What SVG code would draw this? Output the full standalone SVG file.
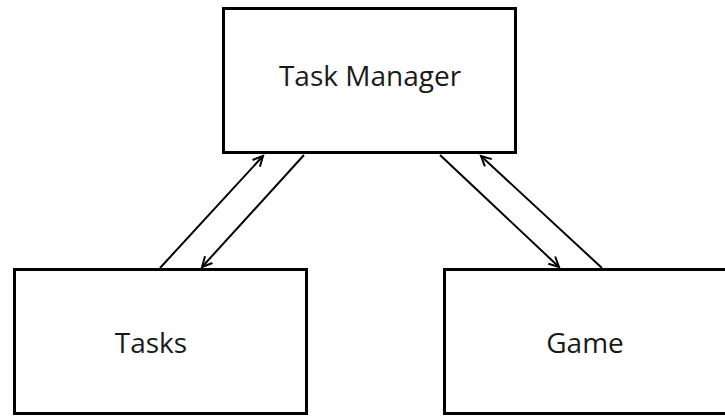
<svg xmlns="http://www.w3.org/2000/svg" width="725" height="416" viewBox="0 0 725 416">
  <style>
    .box { fill: #ffffff; stroke: #000000; stroke-width: 3; }
    .lbl { font-family: "Open Sans", "Liberation Sans", sans-serif; font-size: 28px; fill: #1a1a1a; text-anchor: middle; }
    .conn { stroke: #000000; stroke-width: 2; fill: none; marker-end: url(#arr); }
  </style>
  <defs>
    <marker id="arr" markerUnits="userSpaceOnUse" markerWidth="14" markerHeight="14" refX="11" refY="6" orient="auto" viewBox="0 0 14 12">
      <path d="M1,1 L11,6 L1,11" fill="none" stroke="#000" stroke-width="2"/>
    </marker>
  </defs>
  <rect width="725" height="416" fill="#ffffff"/>
  <g id="task-manager">
    <rect class="box" x="223.5" y="8.5" width="292" height="144"/>
    <text class="lbl" x="370" y="86">Task Manager</text>
  </g>
  <g id="tasks">
    <rect class="box" x="14.5" y="269.5" width="292" height="144"/>
    <text class="lbl" x="151" y="353">Tasks</text>
  </g>
  <g id="game">
    <rect class="box" x="444.5" y="269.5" width="300" height="144"/>
    <text class="lbl" x="585" y="353">Game</text>
  </g>
  <g id="connectors">
    <line class="conn" x1="160" y1="268" x2="263" y2="156"/>
    <line class="conn" x1="304" y1="155" x2="202" y2="267"/>
    <line class="conn" x1="440" y1="155" x2="559" y2="267"/>
    <line class="conn" x1="602" y1="268" x2="481" y2="156"/>
  </g>
</svg>
